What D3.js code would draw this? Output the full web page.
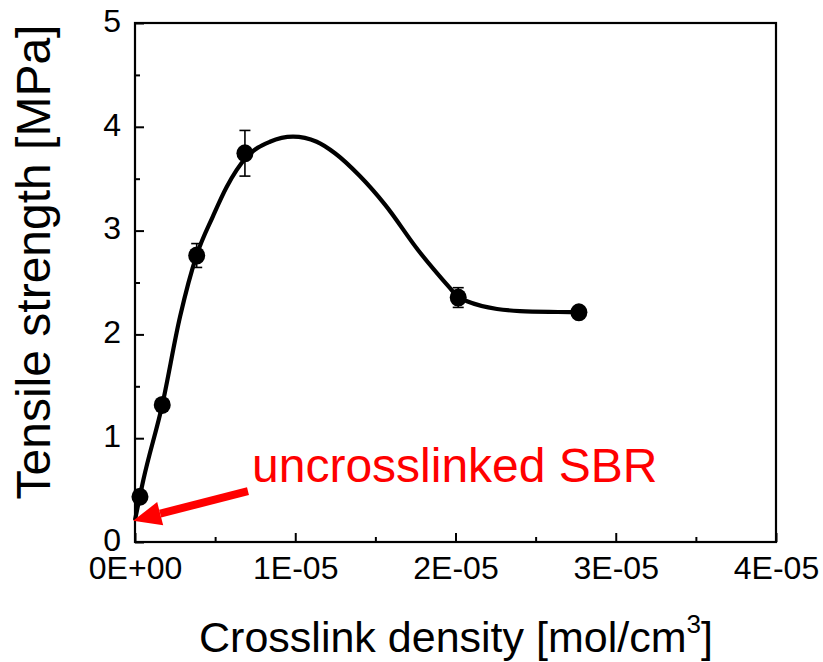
<!DOCTYPE html>
<html>
<head>
<meta charset="utf-8">
<script src="https://cdn.jsdelivr.net/npm/d3@7/dist/d3.min.js"></script>
<style>
  html, body { margin: 0; padding: 0; background: #fff; }
  svg { display: block; font-family: Arial, "Liberation Sans", sans-serif; }
</style>
</head>
<body>
<svg id="chart" width="823" height="662"></svg>
<script>
// Measured samples: crosslink density (units of 1E-05 mol/cm3) vs tensile strength (MPa)
const density  = [0.031, 0.170, 0.385, 0.686, 2.017, 2.770];
const strength = [0.436, 1.320, 2.760, 3.745, 2.355, 2.213];
const strengthErr = [0.03, 0.03, 0.115, 0.22, 0.095, 0.03];

// Smoothed trend line through the measurements
const fitDensity  = [0.000, 0.052, 0.170, 0.281, 0.385, 0.487, 0.572, 0.697, 0.842, 0.986, 1.134, 1.248, 1.400, 1.560, 1.766, 1.966, 2.015, 2.072, 2.259, 2.402, 2.640, 2.764];
const fitStrength = [0.210, 0.597, 1.320, 2.170, 2.765, 3.140, 3.420, 3.710, 3.856, 3.905, 3.856, 3.745, 3.530, 3.250, 2.813, 2.445, 2.360, 2.320, 2.245, 2.225, 2.216, 2.213];

const xTicks = [0, 1, 2, 3, 4];
const xTickLabels = ["0E+00", "1E-05", "2E-05", "3E-05", "4E-05"];
const yTicks = [0, 1, 2, 3, 4, 5];

// Annotation arrow (data units): tail and tip
const arrowTail = [0.705, 0.491];
const arrowTip  = [-0.012, 0.205];
const annotationText = "uncrosslinked SBR";

const svg = d3.select("#chart");
const plotLeft = 135, plotRight = 776, plotTop = 23, plotBottom = 542;

const x = d3.scaleLinear().domain([0, 4]).range([plotLeft, plotRight]);
const y = d3.scaleLinear().domain([0, 5]).range([plotBottom, plotTop]);

// Frame
svg.append("rect")
  .attr("x", plotLeft).attr("y", plotTop)
  .attr("width", plotRight - plotLeft).attr("height", plotBottom - plotTop)
  .attr("fill", "none").attr("stroke", "#000").attr("stroke-width", 2.2);

// Bottom axis (ticks pointing inward)
const xAxis = d3.axisBottom(x)
  .tickValues(xTicks)
  .tickSize(-9)
  .tickPadding(14)
  .tickFormat((d, i) => xTickLabels[i]);
const gx = svg.append("g").attr("transform", `translate(0,${plotBottom})`).call(xAxis);
gx.select(".domain").remove();
gx.selectAll(".tick line").attr("stroke", "#000").attr("stroke-width", 2);
gx.selectAll(".tick text").attr("font-size", 32).attr("fill", "#000")
  .attr("font-family", "Arial, 'Liberation Sans', sans-serif");

const xMinor = d3.axisBottom(x).tickValues([0.5, 1.5, 2.5, 3.5]).tickSize(-5).tickFormat("");
const gxm = svg.append("g").attr("transform", `translate(0,${plotBottom})`).call(xMinor);
gxm.select(".domain").remove();
gxm.selectAll(".tick line").attr("stroke", "#000").attr("stroke-width", 2);

// Left axis (ticks pointing inward)
const yAxis = d3.axisLeft(y).tickValues(yTicks).tickSize(-9).tickPadding(14).tickFormat(d3.format("d"));
const gy = svg.append("g").attr("transform", `translate(${plotLeft},0)`).call(yAxis);
gy.select(".domain").remove();
gy.selectAll(".tick line").attr("stroke", "#000").attr("stroke-width", 2);
gy.selectAll(".tick text").attr("font-size", 32).attr("fill", "#000")
  .attr("dy", "0.26em")
  .attr("font-family", "Arial, 'Liberation Sans', sans-serif");

const yMinor = d3.axisLeft(y).tickValues([0.5, 1.5, 2.5, 3.5, 4.5]).tickSize(-5).tickFormat("");
const gym = svg.append("g").attr("transform", `translate(${plotLeft},0)`).call(yMinor);
gym.select(".domain").remove();
gym.selectAll(".tick line").attr("stroke", "#000").attr("stroke-width", 2);

// Trend line
const line = d3.line()
  .x((d, i) => x(fitDensity[i]))
  .y((d, i) => y(fitStrength[i]))
  .curve(d3.curveMonotoneX);
svg.append("path")
  .datum(fitDensity)
  .attr("d", line)
  .attr("fill", "none")
  .attr("stroke", "#000")
  .attr("stroke-width", 4.2)
  .attr("stroke-linejoin", "round");

// Error bars
const pts = density.map((d, i) => ({ x: d, y: strength[i], e: strengthErr[i] }));
const eb = svg.append("g").attr("stroke", "#000").attr("stroke-width", 1.6);
pts.forEach(p => {
  const cx = x(p.x), y1 = y(p.y + p.e), y2 = y(p.y - p.e);
  eb.append("line").attr("x1", cx).attr("x2", cx).attr("y1", y1).attr("y2", y2);
  eb.append("line").attr("x1", cx - 5.5).attr("x2", cx + 5.5).attr("y1", y1).attr("y2", y1);
  eb.append("line").attr("x1", cx - 5.5).attr("x2", cx + 5.5).attr("y1", y2).attr("y2", y2);
});

// Markers
svg.append("g").selectAll("ellipse")
  .data(pts)
  .join("ellipse")
  .attr("cx", d => x(d.x))
  .attr("cy", d => y(d.y))
  .attr("rx", 8.5)
  .attr("ry", 9)
  .attr("fill", "#000");

// Annotation arrow
const tx = x(arrowTail[0]), ty = y(arrowTail[1]);
const hx = x(arrowTip[0]), hy = y(arrowTip[1]);
const ang = Math.atan2(hy - ty, hx - tx);
const headLen = 28, headHalf = 12;
const bx = hx - headLen * Math.cos(ang), by = hy - headLen * Math.sin(ang);
svg.append("line")
  .attr("x1", tx).attr("y1", ty).attr("x2", bx).attr("y2", by)
  .attr("stroke", "#ff0000").attr("stroke-width", 8);
svg.append("polygon")
  .attr("points", [
    [hx, hy],
    [bx + headHalf * Math.sin(ang), by - headHalf * Math.cos(ang)],
    [bx - headHalf * Math.sin(ang), by + headHalf * Math.cos(ang)]
  ].map(p => p.join(",")).join(" "))
  .attr("fill", "#ff0000");

svg.append("text")
  .attr("x", 252).attr("y", 482)
  .attr("font-size", 48)
  .attr("fill", "#ff0000")
  .text(annotationText);

// Axis titles
svg.append("text")
  .attr("transform", "translate(50,262) rotate(-90)")
  .attr("text-anchor", "middle")
  .attr("font-size", 48)
  .attr("fill", "#000")
  .text("Tensile strength [MPa]");

const xt = svg.append("text")
  .attr("x", 456).attr("y", 652)
  .attr("text-anchor", "middle")
  .attr("font-size", 43)
  .attr("fill", "#000");
xt.append("tspan").text("Crosslink density [mol/cm");
xt.append("tspan").attr("font-size", 26).attr("dy", -19).text("3");
xt.append("tspan").attr("dy", 19).text("]");
</script>
</body>
</html>
